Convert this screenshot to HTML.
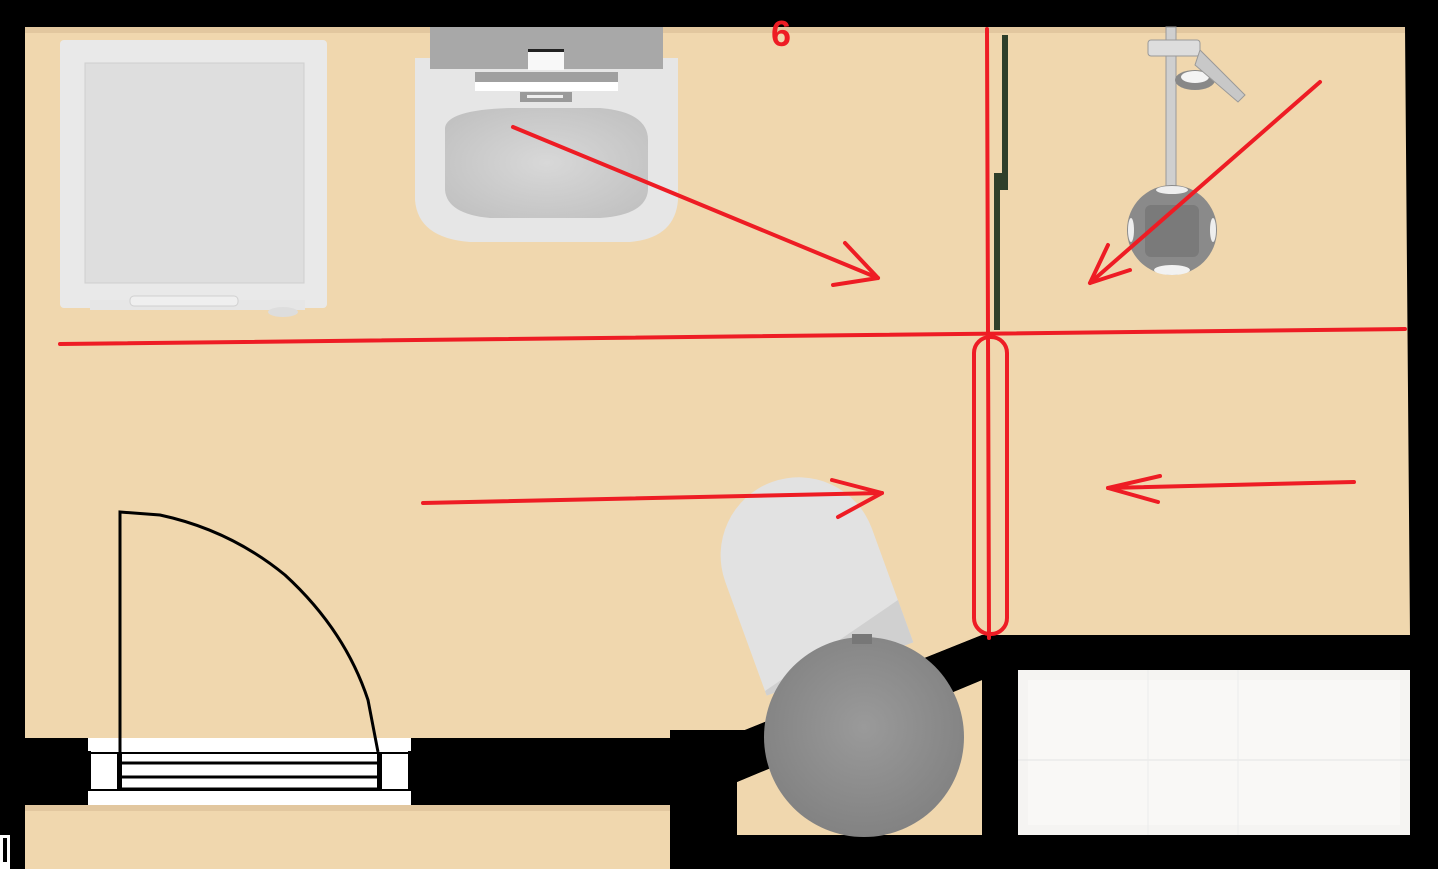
<!DOCTYPE html>
<html><head><meta charset="utf-8"><style>
html,body{margin:0;padding:0;background:#000;overflow:hidden}
svg{display:block}
</style></head><body>
<svg width="1438" height="869" viewBox="0 0 1438 869" xmlns="http://www.w3.org/2000/svg">
<defs>
<radialGradient id="bowl" cx="50%" cy="45%" r="60%"><stop offset="0" stop-color="#9a9a9a"/><stop offset="1" stop-color="#808080"/></radialGradient>
<radialGradient id="sink" cx="50%" cy="50%" r="60%"><stop offset="0" stop-color="#d8d8d8"/><stop offset="1" stop-color="#c2c2c2"/></radialGradient>
</defs>
<rect width="1438" height="869" fill="#000"/>
<polygon points="25,27 1405,27 1410,635 982,635 745,730 670,730 670,738 25,738" fill="#f0d7ae"/>
<rect x="25" y="27" width="1380" height="6" fill="#d8bd94" opacity="0.6"/>
<polygon points="737,782 982,680 982,835 737,835" fill="#f0d7ae"/>
<rect x="25" y="805" width="645" height="64" fill="#f0d7ae"/>
<rect x="25" y="805" width="645" height="6" fill="#d8bd94" opacity="0.6"/>
<rect x="0" y="835" width="10" height="34" fill="#fff"/>
<rect x="3" y="838" width="4" height="24" fill="#000"/>
<rect x="1018" y="670" width="392" height="165" fill="#f5f4f2"/>
<rect x="1028" y="680" width="372" height="145" fill="#f9f8f6"/>
<line x1="1018" y1="760" x2="1410" y2="760" stroke="#e4e4e4" stroke-width="1"/>
<line x1="1148" y1="670" x2="1148" y2="835" stroke="#ececec" stroke-width="1"/>
<line x1="1238" y1="670" x2="1238" y2="835" stroke="#ececec" stroke-width="1"/>
<rect x="88" y="738" width="323" height="67" fill="#fff"/>
<rect x="88" y="751" width="3" height="40" fill="#000"/>
<rect x="408" y="751" width="3" height="40" fill="#000"/>
<line x1="88" y1="753" x2="411" y2="753" stroke="#000" stroke-width="2"/>
<line x1="88" y1="790" x2="411" y2="790" stroke="#000" stroke-width="2"/>
<line x1="122" y1="763" x2="377" y2="763" stroke="#000" stroke-width="3"/>
<line x1="122" y1="777" x2="377" y2="777" stroke="#000" stroke-width="3"/>
<line x1="122" y1="789" x2="377" y2="789" stroke="#000" stroke-width="3"/>
<rect x="117" y="753" width="5" height="37" fill="#000"/>
<rect x="377" y="753" width="5" height="37" fill="#000"/>
<path d="M120,788 L120,512 L160,515 Q230,530 285,575 Q345,630 368,700 L378,752" fill="none" stroke="#000" stroke-width="3"/>
<rect x="60" y="40" width="267" height="268" rx="4" fill="#e9e9e9"/>
<rect x="85" y="63" width="219" height="220" fill="#dedede" stroke="#cfcfcf" stroke-width="1"/>
<rect x="90" y="300" width="215" height="10" fill="#e6e6e6"/>
<rect x="130" y="296" width="108" height="10" rx="4" fill="#efefef" stroke="#d0d0d0"/>
<ellipse cx="283" cy="312" rx="15" ry="5" fill="#ddd"/>
<path d="M415,58 L678,58 L678,200 Q675,238 630,242 L470,242 Q418,238 415,200 Z" fill="#e6e6e6"/>
<rect x="430" y="27" width="233" height="42" fill="#a8a8a8"/>
<rect x="528" y="50" width="36" height="20" fill="#f8f8f8"/>
<rect x="528" y="49" width="36" height="3" fill="#222"/>
<rect x="475" y="72" width="143" height="10" fill="#a0a0a0"/>
<rect x="475" y="82" width="143" height="9" fill="#fff"/>
<rect x="520" y="92" width="52" height="10" fill="#9a9a9a"/>
<rect x="527" y="95" width="36" height="3" fill="#eee"/>
<path d="M445,128 Q447,110 510,108 L600,108 Q648,112 648,140 L648,190 Q646,215 600,218 L490,218 Q447,214 445,190 Z" fill="url(#sink)"/>
<rect x="1002" y="35" width="6" height="155" fill="#2e3f2a"/>
<rect x="994" y="173" width="14" height="17" fill="#2e3f2a"/>
<rect x="994" y="190" width="6" height="140" fill="#2e3f2a"/>
<rect x="1166" y="27" width="10" height="210" fill="#cfcfcf" stroke="#9a9a9a" stroke-width="1"/>
<rect x="1148" y="40" width="52" height="16" rx="3" fill="#ddd" stroke="#999"/>
<ellipse cx="1195" cy="80" rx="20" ry="10" fill="#888"/>
<ellipse cx="1195" cy="77" rx="14" ry="6" fill="#f4f4f4"/>
<path d="M1200,50 L1245,95 L1238,102 L1195,65 Z" fill="#c8c8c8" stroke="#999"/>
<circle cx="1172" cy="230" r="45" fill="#8a8a8a"/>
<rect x="1145" y="205" width="54" height="52" rx="6" fill="#7a7a7a"/>
<ellipse cx="1172" cy="270" rx="18" ry="5" fill="#f2f2f2"/>
<ellipse cx="1172" cy="190" rx="16" ry="4" fill="#eee"/>
<ellipse cx="1131" cy="230" rx="3" ry="12" fill="#eee"/>
<ellipse cx="1213" cy="230" rx="3" ry="12" fill="#eee"/>
<polygon points="745,730 982,635 982,680 737,782 737,740" fill="#000"/>
<g transform="translate(840,669) rotate(-20)">
<path d="M-78,0 L-78,-121 A78,78 0 0 1 78,-121 L78,0 Z" fill="#e2e2e2"/>
<path d="M-78,-5 L78,-45 L78,0 L-78,0 Z" fill="#d0d0d0"/>
</g>
<circle cx="864" cy="737" r="100" fill="url(#bowl)"/>
<rect x="852" y="634" width="20" height="10" fill="#777"/>
<g stroke="#ee1c24" stroke-width="4" fill="none" stroke-linecap="round" stroke-linejoin="round">
<line x1="60" y1="344" x2="1405" y2="329"/>
<line x1="987" y1="29" x2="989" y2="638"/>
<rect x="974" y="337" width="33" height="297" rx="16"/>
<line x1="513" y1="127" x2="878" y2="278"/>
<polyline points="845,243 878,278 833,285"/>
<line x1="1320" y1="82" x2="1090" y2="283"/>
<polyline points="1108,245 1090,283 1130,270"/>
<line x1="423" y1="503" x2="882" y2="493"/>
<polyline points="832,480 882,493 838,517"/>
<line x1="1354" y1="482" x2="1108" y2="488"/>
<polyline points="1160,476 1108,488 1158,502"/>
</g>
<text x="781" y="46" font-family="Liberation Sans, sans-serif" font-size="36" font-weight="bold" fill="#ee1c24" text-anchor="middle">6</text>
</svg>
</body></html>
